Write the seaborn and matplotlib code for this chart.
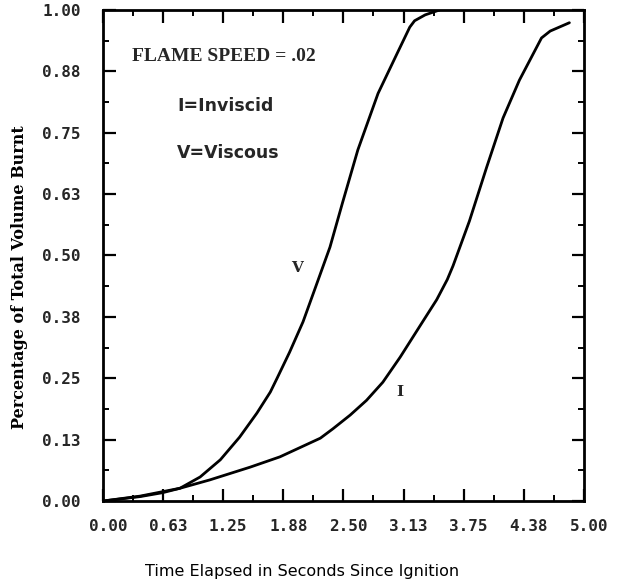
import numpy as np
import pandas as pd
import matplotlib
matplotlib.use("Agg")
import matplotlib.pyplot as plt
import matplotlib.transforms as mtransforms
from matplotlib.ticker import MultipleLocator
import seaborn as sns

# Burnt-volume fraction versus time since ignition (flame speed .02)
viscous_t = [0.00, 0.385, 0.62, 0.80, 1.01, 1.22, 1.42, 1.60, 1.74, 1.81, 1.94,
             2.08, 2.20, 2.36, 2.49, 2.65, 2.86, 3.06, 3.19, 3.24, 3.35, 3.50]
viscous_v = [0.000, 0.009, 0.017, 0.026, 0.049, 0.084, 0.130, 0.179, 0.222,
             0.250, 0.303, 0.365, 0.430, 0.517, 0.607, 0.715, 0.830, 0.912,
             0.965, 0.978, 0.990, 1.000]

inviscid_t = [0.00, 0.385, 0.80, 1.11, 1.53, 1.84, 2.05, 2.26, 2.39, 2.57, 2.74,
              2.91, 3.09, 3.33, 3.47, 3.58, 3.64, 3.81, 3.99, 4.16, 4.33, 4.56,
              4.65, 4.85]
inviscid_v = [0.000, 0.010, 0.026, 0.043, 0.069, 0.090, 0.109, 0.128, 0.147,
              0.175, 0.205, 0.242, 0.293, 0.367, 0.410, 0.451, 0.479, 0.570,
              0.680, 0.780, 0.857, 0.943, 0.957, 0.974]

x_ticks = [0.0, 0.625, 1.25, 1.875, 2.5, 3.125, 3.75, 4.375, 5.0]
x_tick_labels = ["0.00", "0.63", "1.25", "1.88", "2.50", "3.13", "3.75", "4.38", "5.00"]
y_ticks = [0.0, 0.125, 0.25, 0.375, 0.5, 0.625, 0.75, 0.875, 1.0]
y_tick_labels = ["0.00", "0.13", "0.25", "0.38", "0.50", "0.63", "0.75", "0.88", "1.00"]

df = pd.concat([
    pd.DataFrame({"t": viscous_t, "frac": viscous_v, "case": "V"}),
    pd.DataFrame({"t": inviscid_t, "frac": inviscid_v, "case": "I"}),
])

sns.set_theme(style="ticks")
plt.rcParams["font.family"] = ["DejaVu Sans"]

fig = plt.figure(figsize=(6.18, 5.86), dpi=100)
ax = fig.add_axes([0.1667, 0.145, 0.778, 0.838])

sns.lineplot(data=df, x="t", y="frac", units="case", estimator=None,
             color="black", linewidth=2.0, sort=False, legend=False, ax=ax,
             solid_joinstyle="round", solid_capstyle="round")

ax.set_xlim(0, 5)
ax.set_ylim(0, 1)
ax.set_xticks(x_ticks)
ax.set_xticklabels(x_tick_labels)
ax.set_yticks(y_ticks)
ax.set_yticklabels(y_tick_labels)
ax.xaxis.set_minor_locator(MultipleLocator(0.3125))
ax.yaxis.set_minor_locator(MultipleLocator(0.0625))

ax.tick_params(axis="both", which="both", direction="in", color="black",
               top=True, right=True)
ax.tick_params(axis="both", which="major", length=9, width=1.6)
ax.tick_params(axis="both", which="minor", length=4.5, width=1.4)
ax.tick_params(axis="x", which="major", pad=13)
ax.tick_params(axis="y", which="major", pad=16)

# x tick labels sit a few pixels to the right of their ticks
shift = mtransforms.ScaledTranslation(5 / 100, 0, fig.dpi_scale_trans)
for tick in ax.xaxis.get_major_ticks():
    tick.label1.set_transform(tick.label1.get_transform() + shift)
for lab in ax.get_xticklabels() + ax.get_yticklabels():
    lab.set_fontfamily("DejaVu Sans Mono")
    lab.set_fontweight("bold")
    lab.set_fontsize(11.5)

for sp in ax.spines.values():
    sp.set_visible(True)
    sp.set_linewidth(2.0)
    sp.set_color("black")

ax.set_xlabel("Time Elapsed in Seconds Since Ignition", fontsize=11.5,
              family="DejaVu Sans", color="black")
ax.xaxis.set_label_coords(0.414, -0.128)
ax.set_ylabel("Percentage of Total Volume Burnt", fontsize=11.5,
              family="DejaVu Serif", weight="bold", color="black")
ax.yaxis.set_label_coords(-0.156, 0.456)

ax.text(0.30, 0.905, "FLAME SPEED = .02", fontsize=14, family="Liberation Serif",
        weight="bold", ha="left", va="center")
ax.text(0.77, 0.805, "I=Inviscid", fontsize=12.5, family="DejaVu Sans",
        weight="bold", ha="left", va="center")
ax.text(0.77, 0.708, "V=Viscous", fontsize=12.5, family="DejaVu Sans",
        weight="bold", ha="left", va="center")
ax.text(2.02, 0.475, "V", fontsize=11, family="DejaVu Serif", weight="bold",
        ha="center", va="center")
ax.text(3.09, 0.222, "I", fontsize=11, family="DejaVu Serif", weight="bold",
        ha="center", va="center")

fig.savefig("out.png", dpi=100, facecolor="white")
